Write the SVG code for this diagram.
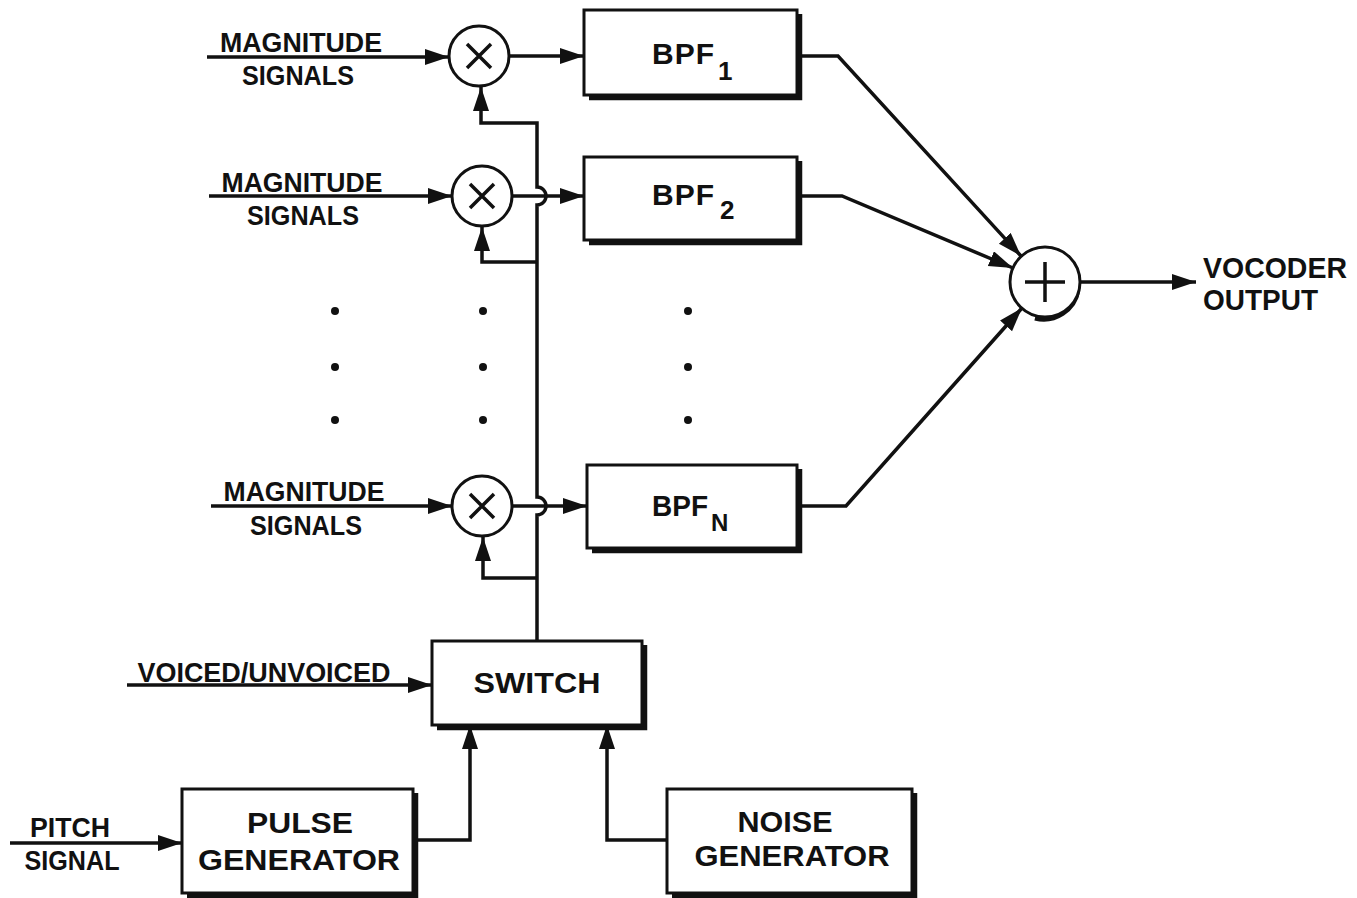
<svg xmlns="http://www.w3.org/2000/svg" width="1357" height="898" viewBox="0 0 1357 898">
<defs>
<marker id="ah" markerUnits="userSpaceOnUse" markerWidth="26" markerHeight="18" refX="24" refY="8" orient="auto">
<path d="M0,0 L24,8 L0,16 Z" fill="#111"/>
</marker>
<style>
.box{fill:#fff;stroke:#111;stroke-width:3}
.sh{fill:none;stroke:#111;stroke-width:4.5}
.ln{fill:none;stroke:#111;stroke-width:3.5}
.t{font-family:"Liberation Sans",Arial,sans-serif;font-weight:bold;font-size:27px;fill:#111;text-anchor:middle}
.b{font-family:"Liberation Sans",Arial,sans-serif;font-weight:bold;font-size:30px;fill:#111;text-anchor:middle}
.l{text-anchor:start}
.dot{fill:#111}
</style>
</defs>
<rect width="1357" height="898" fill="#fff"/>

<g id="connectors">
<path class="ln" d="M207,57 L449,57" marker-end="url(#ah)"/>
<path class="ln" d="M209,196 L452,196" marker-end="url(#ah)"/>
<path class="ln" d="M211,506 L452,506" marker-end="url(#ah)"/>
<path class="ln" d="M509,56 L584,56" marker-end="url(#ah)"/>
<path class="ln" d="M512,196 L584,196" marker-end="url(#ah)"/>
<path class="ln" d="M512,506 L587,506" marker-end="url(#ah)"/>
<path class="ln" d="M537,641 L537,515 A9,9 0 0 0 537,497 L537,205 A9,9 0 0 0 537,187 L537,123 L481,123 L481,87" marker-end="url(#ah)"/>
<path class="ln" d="M537,262 L482,262 L482,227" marker-end="url(#ah)"/>
<path class="ln" d="M537,578 L483,578 L483,537" marker-end="url(#ah)"/>
<path class="ln" d="M797,56 L838,56 L1021,256" marker-end="url(#ah)"/>
<path class="ln" d="M797,196 L842,196 L1013,268" marker-end="url(#ah)"/>
<path class="ln" d="M797,506 L846,506 L1022,308" marker-end="url(#ah)"/>
<path class="ln" d="M1080,282 L1196,282" marker-end="url(#ah)"/>
<path class="ln" d="M127,685 L432,685" marker-end="url(#ah)"/>
<path class="ln" d="M10,843 L182,843" marker-end="url(#ah)"/>
<path class="ln" d="M413,840 L470,840 L470,725" marker-end="url(#ah)"/>
<path class="ln" d="M667,840 L607,840 L607,725" marker-end="url(#ah)"/>
</g>

<g id="labels">
<text class="t" x="301" y="52" textLength="162" lengthAdjust="spacingAndGlyphs">MAGNITUDE</text>
<text class="t" x="298" y="85" textLength="112" lengthAdjust="spacingAndGlyphs">SIGNALS</text>
<text class="t" x="302" y="192" textLength="161" lengthAdjust="spacingAndGlyphs">MAGNITUDE</text>
<text class="t" x="303" y="225" textLength="112" lengthAdjust="spacingAndGlyphs">SIGNALS</text>
<text class="t" x="304" y="501" textLength="161" lengthAdjust="spacingAndGlyphs">MAGNITUDE</text>
<text class="t" x="306" y="535" textLength="112" lengthAdjust="spacingAndGlyphs">SIGNALS</text>
<text class="t" x="264" y="682" textLength="253" lengthAdjust="spacingAndGlyphs">VOICED/UNVOICED</text>
<text class="t" x="70" y="837" textLength="80" lengthAdjust="spacingAndGlyphs">PITCH</text>
<text class="t" x="72" y="870" textLength="95" lengthAdjust="spacingAndGlyphs">SIGNAL</text>
<text class="b l" x="1203" y="278" textLength="144" lengthAdjust="spacingAndGlyphs">VOCODER</text>
<text class="b l" x="1203" y="310" textLength="115" lengthAdjust="spacingAndGlyphs">OUTPUT</text>
</g>

<g id="mult1">
<circle class="box" cx="479" cy="56" r="30"/>
<path class="ln" d="M467,44 L491,68 M491,44 L467,68"/>
</g>
<g id="mult2">
<circle class="box" cx="482" cy="196" r="30"/>
<path class="ln" d="M470,184 L494,208 M494,184 L470,208"/>
</g>
<g id="multN">
<circle class="box" cx="482" cy="506" r="30"/>
<path class="ln" d="M470,494 L494,518 M494,494 L470,518"/>
</g>

<g id="bpf1">
<path class="sh" d="M589,98 L800,98 L800,14"/>
<rect class="box" x="584" y="10" width="213" height="85"/>
<text class="b l" x="652" y="64" textLength="62" lengthAdjust="spacing">BPF</text>
<text class="b l" x="718" y="80" style="font-size:26px">1</text>
</g>
<g id="bpf2">
<path class="sh" d="M589,243 L800,243 L800,161"/>
<rect class="box" x="584" y="157" width="213" height="83"/>
<text class="b l" x="652" y="205" textLength="62" lengthAdjust="spacing">BPF</text>
<text class="b l" x="720" y="219" style="font-size:26px">2</text>
</g>
<g id="bpfN">
<path class="sh" d="M592,551 L800,551 L800,469"/>
<rect class="box" x="587" y="465" width="210" height="83"/>
<text class="b l" x="652" y="516" textLength="56" lengthAdjust="spacingAndGlyphs">BPF</text>
<text class="b l" x="711" y="531" style="font-size:24px">N</text>
</g>

<g id="dots">
<circle class="dot" cx="335" cy="311" r="4"/><circle class="dot" cx="335" cy="367" r="4"/><circle class="dot" cx="335" cy="420" r="4"/>
<circle class="dot" cx="483" cy="311" r="4"/><circle class="dot" cx="483" cy="367" r="4"/><circle class="dot" cx="483" cy="420" r="4"/>
<circle class="dot" cx="688" cy="311" r="4"/><circle class="dot" cx="688" cy="367" r="4"/><circle class="dot" cx="688" cy="420" r="4"/>
</g>

<g id="sum">
<path class="sh" d="M1078,290 A35,35 0 0 1 1035,318" style="stroke-width:5"/>
<circle class="box" cx="1045" cy="282" r="35"/>
<path class="ln" d="M1025,282 L1065,282 M1045,262 L1045,302"/>
</g>

<g id="switch">
<path class="sh" d="M437,728 L645,728 L645,645"/>
<rect class="box" x="432" y="641" width="210" height="84"/>
<text class="b" x="537" y="693" textLength="127" lengthAdjust="spacingAndGlyphs">SWITCH</text>
</g>

<g id="pulse">
<path class="sh" d="M187,896 L416,896 L416,793"/>
<rect class="box" x="182" y="789" width="231" height="104"/>
<text class="b" x="300" y="833" textLength="106" lengthAdjust="spacingAndGlyphs">PULSE</text>
<text class="b" x="299" y="870" textLength="202" lengthAdjust="spacingAndGlyphs">GENERATOR</text>
</g>

<g id="noise">
<path class="sh" d="M672,896 L915,896 L915,793"/>
<rect class="box" x="667" y="789" width="245" height="104"/>
<text class="b" x="785" y="832" textLength="95" lengthAdjust="spacingAndGlyphs">NOISE</text>
<text class="b" x="792" y="866" textLength="195" lengthAdjust="spacingAndGlyphs">GENERATOR</text>
</g>
</svg>
